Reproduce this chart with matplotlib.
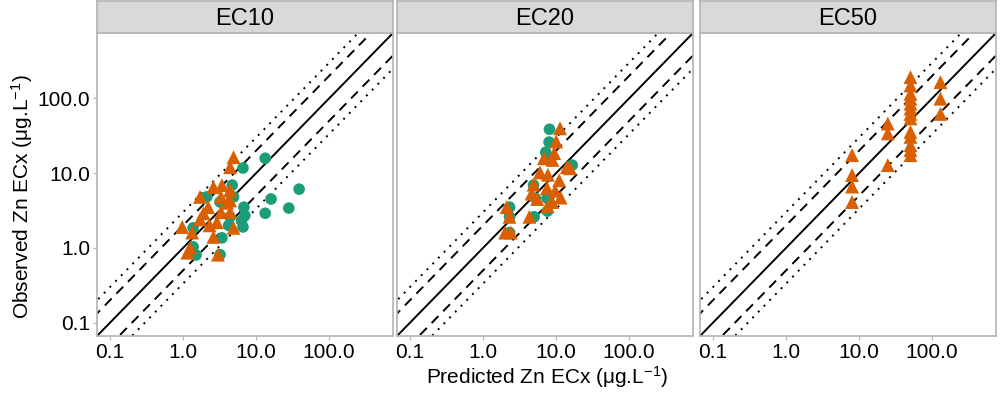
import numpy as np
import matplotlib.pyplot as plt

plt.rcParams['font.family'] = ['Liberation Sans', 'DejaVu Sans']
plt.rcParams['mathtext.fontset'] = 'custom'
plt.rcParams['mathtext.rm'] = 'Liberation Sans'
plt.rcParams['mathtext.it'] = 'Liberation Sans:italic'

panels = ['EC10', 'EC20', 'EC50']
tick_vals = [0.1, 1.0, 10.0, 100.0]
tick_labels = ['0.1', '1.0', '10.0', '100.0']

# circles (green)
circ_x = {
    'EC10': [13.3, 6.6, 38.8, 16, 28, 13.3, 6.8, 7.0, 6.6, 6.3, 4.7, 3.2, 2.1, 1.37, 1.37, 1.5, 3.2, 3.4, 4.9, 4.4, 4.2],
    'EC20': [8.1, 8.0, 7.2, 16.6, 4.9, 7.5, 5.2, 2.3, 2.3, 5.0, 7.6, 2.3],
    'EC50': [],
}
circ_y = {
    'EC10': [15.8, 11.7, 6.1, 4.5, 3.4, 2.9, 3.5, 2.7, 1.9, 2.3, 6.9, 4.1, 4.8, 1.85, 1.03, 0.8, 0.81, 1.36, 4.8, 2.6, 2.0],
    'EC20': [38.6, 26, 19, 12.8, 6.9, 4.6, 4.6, 3.5, 2.6, 2.6, 3.1, 1.6],
    'EC50': [],
}
# triangles (orange)
tri_x = {
    'EC10': [4.9, 4.4, 1.7, 0.97, 1.33, 1.25, 1.14, 3.0, 2.6, 1.9, 2.2, 2.6, 3.4, 4.4, 4.0, 3.3,
             2.9, 4.4, 4.9, 2.3, 1.7, 4.4, 3.3],
    'EC20': [11.3, 10.0, 9.4, 6.8, 8.9, 14, 15.5, 6.0, 7.7, 11, 4.9, 7.5, 9.7, 4.6, 5.5, 11.5,
             8.8, 7.6, 2.1, 2.3, 4.3, 2.0, 2.4],
    'EC50': [50.5, 50.5, 50.5, 50.5, 50.5, 50.5, 50.5, 50.5, 50.5, 50.5, 50.5, 50.5, 50.5,
             130, 130, 130, 24.7, 24.7, 24.7, 8.0, 8.0, 8.0, 8.0],
}
tri_y = {
    'EC10': [16.3, 12, 4.8, 1.9, 1.6, 1.0, 0.86, 0.81, 1.4, 2.9, 3.5, 6.5, 6.9, 5.9, 4.0, 3.0,
             2.2, 3.0, 1.85, 2.0, 2.4, 4.3, 4.8],
    'EC20': [39.8, 26.5, 18.5, 15.8, 15, 12, 11.6, 10.2, 9.5, 8, 7, 6.3, 5.8, 5.3, 4.5, 4.7,
             4.1, 3.6, 3.5, 2.6, 2.6, 1.6, 1.6],
    'EC50': [192, 149, 115, 99, 85, 73, 62, 54, 35.6, 30.5, 23.6, 20.3, 17.4,
             165, 99, 62, 46, 34, 12.8, 17.4, 9.4, 6.6, 4.1],
}

lim = (0.066, 750)
border = '#b3b3b3'

fig = plt.figure(figsize=(10, 3.93), dpi=100)
lefts = [0.097, 0.397, 0.700]
width = 0.296
bottom = 1 - 336 / 393
top = 1 - 33 / 393

for i, name in enumerate(panels):
    ax = fig.add_axes([lefts[i], bottom, width, top - bottom])
    ax.set_xscale('log')
    ax.set_yscale('log')
    ax.set_xlim(lim)
    ax.set_ylim(lim)

    xx = np.geomspace(lim[0] / 10, lim[1] * 10, 50)
    ax.plot(xx, xx, color='black', lw=1.4)
    for k in (2, 0.5):
        ax.plot(xx, xx * k, color='black', lw=1.4, dashes=(5, 3.5))
    for k in (3, 1 / 3):
        ax.plot(xx, xx * k, color='black', lw=1.4, dashes=(1, 3.2))

    ax.scatter(circ_x[name], circ_y[name], s=70, color='#1B9E77', marker='o',
               edgecolors='none', zorder=3)
    ax.scatter(tri_x[name], tri_y[name], s=100, color='#D95F02', marker='^',
               edgecolors='none', zorder=4)

    ax.set_xticks(tick_vals)
    ax.set_xticklabels(tick_labels)
    ax.xaxis.set_minor_locator(plt.NullLocator())
    ax.yaxis.set_minor_locator(plt.NullLocator())
    if i == 0:
        ax.set_yticks(tick_vals)
        ax.set_yticklabels(tick_labels)
    else:
        ax.set_yticks([])
    ax.tick_params(labelsize=15, length=3, color=border, pad=2)
    for sp in ax.spines.values():
        sp.set_color(border)
        sp.set_linewidth(1.2)

    # strip on top
    strip = fig.add_axes([lefts[i], top, width, 1 - top - 0.002])
    strip.set_facecolor('#d9d9d9')
    strip.set_xticks([])
    strip.set_yticks([])
    for sp in strip.spines.values():
        sp.set_color(border)
        sp.set_linewidth(1.2)
    strip.text(0.5, 0.45, name, ha='center', va='center', fontsize=17,
               transform=strip.transAxes)

fig.text(0.547, 0.04, 'Predicted Zn ECx (μg.L$^{-1}$)', ha='center', va='center', fontsize=15)
fig.text(0.022, 0.5, 'Observed Zn ECx (μg.L$^{-1}$)', ha='center', va='center',
         rotation=90, fontsize=15)

fig.savefig('out.png', dpi=100)
